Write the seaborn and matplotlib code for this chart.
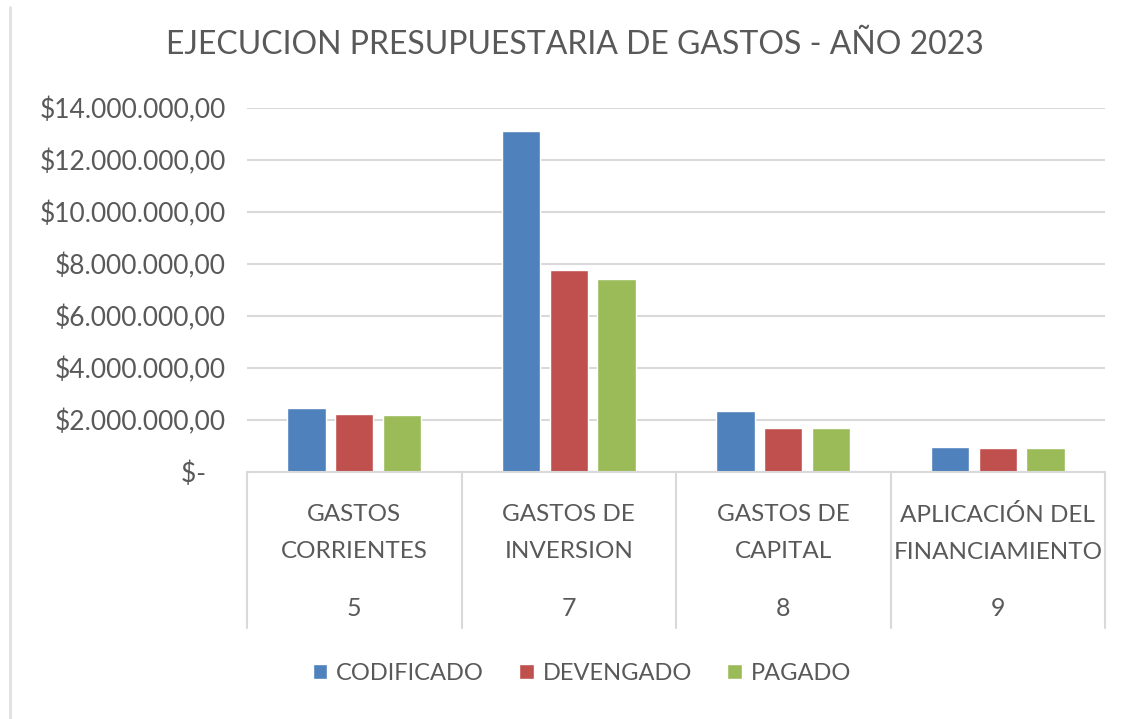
import matplotlib
matplotlib.use("Agg")
import matplotlib.pyplot as plt
import matplotlib.transforms as mtransforms
import pandas as pd
import seaborn as sns

# values (USD)
categories = ["GASTOS\nCORRIENTES", "GASTOS DE\nINVERSION", "GASTOS DE\nCAPITAL", "APLICACIÓN DEL\nFINANCIAMIENTO"]
codes = ["5", "7", "8", "9"]
series = ["CODIFICADO", "DEVENGADO", "PAGADO"]
codificado = [2_470_000, 13_130_000, 2_360_000, 970_000]
devengado = [2_220_000, 7_780_000, 1_690_000, 930_000]
pagado = [2_190_000, 7_410_000, 1_690_000, 910_000]
y_ticks = [0, 2_000_000, 4_000_000, 6_000_000, 8_000_000, 10_000_000, 12_000_000, 14_000_000]

colors = ["#4F81BD", "#C0504D", "#9BBB59"]
TEXT = "#595959"
GRID = "#D9D9D9"


def money(v):
    # excel accounting style: $12.000.000,00 / $-
    if v == 0:
        return "$-   "
    return "$" + f"{v:,.2f}".replace(",", "X").replace(".", ",").replace("X", ".")


df = pd.DataFrame({
    "categoria": categories * 3,
    "serie": [s for s in series for _ in categories],
    "valor": codificado + devengado + pagado,
})

sns.set_theme(style="white")
plt.rcParams["font.family"] = ["Lato", "DejaVu Sans"]

fig = plt.figure(figsize=(11.28, 7.19), dpi=100)
ax = fig.add_axes([247 / 1128, 1 - 472 / 719, (1105 - 247) / 1128, (472 - 108) / 719])

sns.barplot(data=df, x="categoria", y="valor", hue="serie", palette=colors,
            width=0.67, gap=0.2, ax=ax, saturation=1)

ax.set_xlim(-0.5, len(categories) - 0.5)
ax.set_ylim(0, 14_000_000)
ax.set_yticks(y_ticks)
ax.set_yticklabels([money(v) for v in y_ticks], fontsize=19, color=TEXT)
ax.tick_params(axis="y", length=0, pad=15)
ax.yaxis.grid(True, color=GRID, linewidth=1.5)
ax.set_axisbelow(True)
ax.set_xlabel("")
ax.set_ylabel("")
ax.set_xticks([])
for side in ["left", "right", "top"]:
    ax.spines[side].set_visible(False)
ax.spines["bottom"].set_color(GRID)
ax.spines["bottom"].set_linewidth(1.5)

# two-level category axis, like excel
trans = mtransforms.blended_transform_factory(ax.transData, ax.transAxes)
for i in range(len(categories) + 1):
    ax.plot([i - 0.5, i - 0.5], [0, -0.429], transform=trans, color=GRID,
            linewidth=1.5, clip_on=False)
for i, (name, code) in enumerate(zip(categories, codes)):
    ax.text(i, -0.168, name, transform=trans, ha="center", va="center",
            fontsize=17.5, color=TEXT, linespacing=1.95)
    ax.text(i, -0.374, code, transform=trans, ha="center", va="center",
            fontsize=18, color=TEXT)

ax.legend_.remove()
handles, labels = ax.get_legend_handles_labels()
fig.legend(handles, labels, loc="center", bbox_to_anchor=(582 / 1128, 1 - 673 / 719),
           ncol=3, frameon=False, fontsize=17, labelcolor=TEXT,
           handlelength=0.6, handleheight=0.6, handletextpad=0.38, columnspacing=1.5)

fig.text(575 / 1128, 1 - 45 / 719, "EJECUCION PRESUPUESTARIA DE GASTOS - AÑO 2023",
         ha="center", va="center", fontsize=23, color=TEXT)

# light frame on the left edge of the chart area
fig.add_artist(plt.Line2D([10 / 1128, 10 / 1128], [0, 1 - 7 / 719],
                          transform=fig.transFigure, color="#E0E0E0", linewidth=2))

fig.savefig("out.png", dpi=100, facecolor="white")
